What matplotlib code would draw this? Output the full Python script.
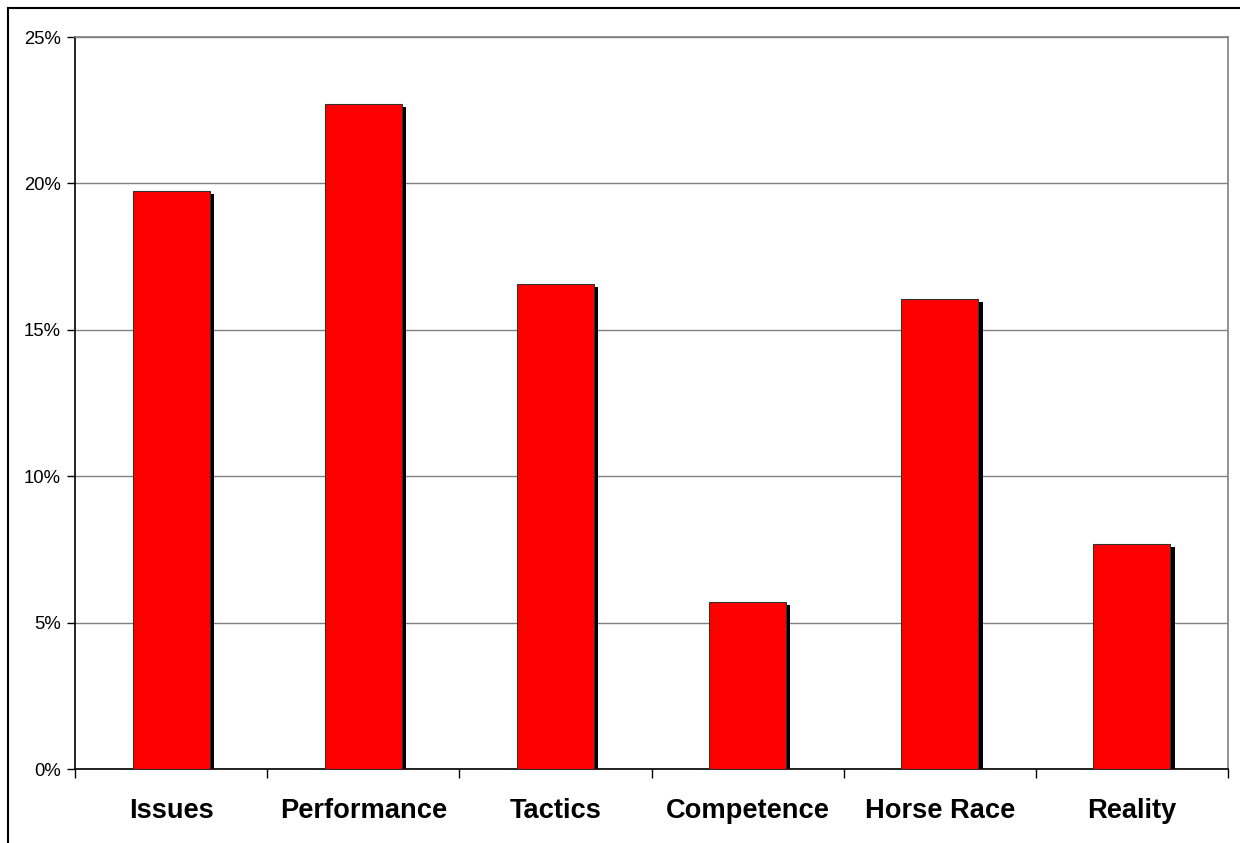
import numpy as np
import matplotlib
matplotlib.use("Agg")
import matplotlib.pyplot as plt
import matplotlib.patheffects as pe
from matplotlib.lines import Line2D

categories = ["Issues", "Performance", "Tactics", "Competence", "Horse Race", "Reality"]
shares = [19.75, 22.72, 16.57, 5.70, 16.05, 7.68]  # percent

plt.rcParams['font.family'] = ['Liberation Sans', 'DejaVu Sans']

fig = plt.figure(figsize=(12.4, 8.43), dpi=100)
ax = fig.add_axes([75/1240, 74/843, 1153/1240, 732/843])

x = np.arange(len(categories))
bars = ax.bar(x, shares, width=0.4, color="#ff0000", edgecolor="#333333", linewidth=0.8, zorder=3)
for b in bars:
    b.set_path_effects([pe.SimplePatchShadow(offset=(3.2, -2.4), shadow_rgbFace="black", alpha=1.0),
                        pe.Normal()])

ax.set_xlim(-0.5, len(categories) - 0.5)
ax.set_ylim(0, 25)
ax.set_yticks(np.arange(0, 26, 5))
ax.set_yticklabels([f"{v}%" for v in range(0, 26, 5)], fontsize=13.3)
ax.yaxis.grid(True, color="#808080", linewidth=1.0, zorder=0)

# category boundaries get the tick marks, labels sit at the centres
ax.set_xticks(np.arange(-0.5, len(categories)))
ax.set_xticklabels([])
ax.set_xticks(x, minor=True)
ax.set_xticklabels(categories, minor=True, fontsize=19.6, fontweight="bold")
ax.tick_params(axis="x", which="major", length=6.5, width=1, direction="out")
ax.tick_params(axis="x", which="minor", length=0, pad=21)
ax.tick_params(axis="y", length=6, width=1, direction="out", pad=4)

ax.spines["left"].set_color("black")
ax.spines["bottom"].set_color("black")
ax.spines["top"].set_color("#808080")
ax.spines["right"].set_color("#808080")
for s in ax.spines.values():
    s.set_linewidth(1.2)

# outer chart frame
fig.add_artist(Line2D([8/1240, 1], [1 - 8/843, 1 - 8/843], color="black", lw=1.5, transform=fig.transFigure))
fig.add_artist(Line2D([8/1240, 8/1240], [0, 1 - 8/843], color="black", lw=1.5, transform=fig.transFigure))

fig.savefig("out.png", dpi=100)
